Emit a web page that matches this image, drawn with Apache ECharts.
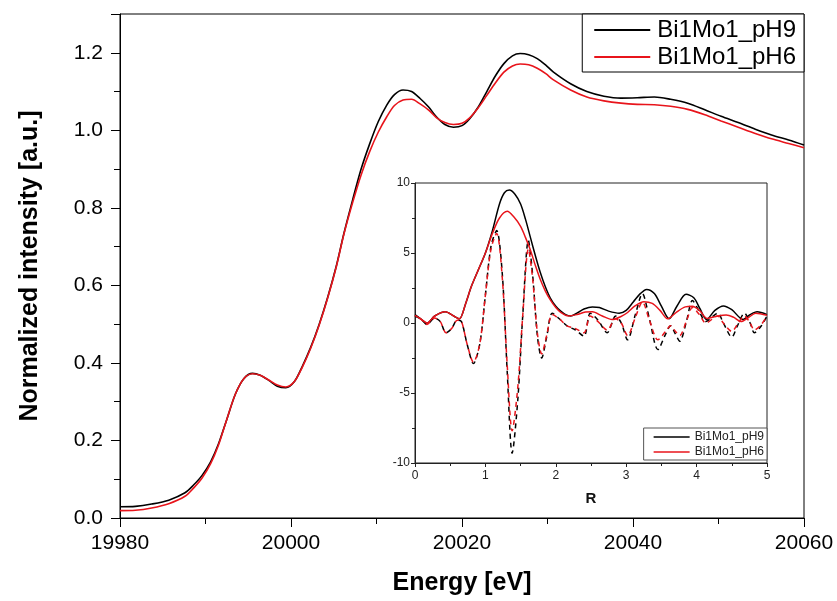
<!DOCTYPE html>
<html>
<head>
<meta charset="utf-8">
<script src="https://cdn.jsdelivr.net/npm/echarts@6/dist/echarts.min.js"></script>
<style>
  html, body { margin: 0; padding: 0; background: #fff; }
  #chart { width: 837px; height: 601px; }
</style>
</head>
<body>
<div id="chart"></div>
<script>
// 主图：XANES 能量 (eV)
const energy = [19980, 19981.8, 19983.7, 19985.7, 19987.6, 19988.6, 19989.6, 19990.6, 19991.5, 19992.5, 19993.5, 19994.5, 19995.5, 19996.4, 19997.4, 19998.4, 19999.4, 20000.4,
    20001.3, 20002.3, 20003.3, 20004.3, 20005.3, 20006.2, 20007.2, 20008.2, 20009.2, 20010.2, 20011.2, 20012.1, 20013.1, 20014.1, 20015.1, 20016.1, 20017.0, 20018.0, 20019.0, 20020.0,
    20020.9, 20021.9, 20022.9, 20023.9, 20024.9, 20025.9, 20026.8, 20027.8, 20028.8, 20029.8, 20030.7, 20032.7, 20034.6, 20036.6, 20038.6,
    20040.5, 20042.5, 20044.4, 20046.4, 20048.4, 20050.3, 20052.3, 20054.3, 20056.2, 20058.2, 20060];

const xanesPH9 = [0.029, 0.030, 0.036, 0.046, 0.065, 0.085, 0.110, 0.145, 0.190, 0.255, 0.320, 0.360, 0.373, 0.368, 0.355, 0.340, 0.336, 0.352,
    0.390, 0.440, 0.500, 0.570, 0.650, 0.735, 0.820, 0.900, 0.965, 1.022, 1.065, 1.092, 1.104, 1.100, 1.082, 1.060, 1.035, 1.015, 1.008, 1.012,
    1.030, 1.060, 1.100, 1.140, 1.172, 1.192, 1.198, 1.195, 1.185, 1.168, 1.150, 1.120, 1.100, 1.088, 1.083,
    1.084, 1.086, 1.080, 1.070, 1.053, 1.036, 1.020, 1.003, 0.988, 0.975, 0.962];

const xanesPH6 = [0.019, 0.020, 0.026, 0.037, 0.056, 0.077, 0.103, 0.140, 0.187, 0.255, 0.320, 0.360, 0.372, 0.368, 0.356, 0.343, 0.338, 0.352,
    0.388, 0.438, 0.498, 0.568, 0.648, 0.733, 0.813, 0.885, 0.945, 0.995, 1.035, 1.064, 1.078, 1.080, 1.068, 1.052, 1.033, 1.020, 1.015, 1.018,
    1.032, 1.058, 1.090, 1.122, 1.150, 1.166, 1.171, 1.169, 1.160, 1.146, 1.130, 1.104, 1.086, 1.076, 1.070,
    1.067, 1.066, 1.062, 1.054, 1.040, 1.024, 1.008, 0.992, 0.978, 0.966, 0.955];

// 插图：傅里叶变换 [R, 值]
const ftMagPH9 = [[0, 0.6], [0.08, 0.3], [0.17, 0.0], [0.28, 0.5], [0.43, 0.8], [0.55, 0.5], [0.63, 0.3], [0.72, 1.4], [0.8, 2.6], [0.9, 3.8],
    [1.0, 5.0], [1.1, 6.6], [1.2, 8.5], [1.27, 9.3], [1.34, 9.5], [1.42, 9.2], [1.5, 8.5], [1.57, 7.4], [1.64, 6.1], [1.71, 4.8], [1.78, 3.6],
    [1.85, 2.6], [1.92, 1.8], [2.0, 1.2], [2.07, 0.85], [2.14, 0.6], [2.21, 0.5], [2.3, 0.7], [2.4, 1.0], [2.52, 1.15], [2.62, 1.1], [2.75, 0.85],
    [2.9, 0.7], [3.0, 0.9], [3.1, 1.5], [3.2, 2.1], [3.29, 2.4], [3.4, 2.1], [3.5, 1.2], [3.61, 0.3], [3.72, 1.2], [3.85, 2.05], [3.96, 1.8],
    [4.05, 1.0], [4.14, 0.25], [4.26, 0.9], [4.38, 1.22], [4.5, 0.95], [4.66, 0.25], [4.76, 0.6], [4.86, 0.8], [5.0, 0.6]];

const ftMagPH6 = [[0, 0.55], [0.08, 0.3], [0.17, 0.0], [0.28, 0.5], [0.43, 0.8], [0.55, 0.5], [0.63, 0.3], [0.72, 1.4], [0.8, 2.6], [0.9, 3.8],
    [1.0, 5.0], [1.1, 6.4], [1.2, 7.5], [1.31, 7.98], [1.4, 7.6], [1.5, 6.9], [1.57, 6.1], [1.64, 5.2], [1.71, 4.1], [1.78, 3.1],
    [1.85, 2.3], [1.92, 1.67], [2.0, 1.1], [2.07, 0.76], [2.18, 0.5], [2.3, 0.6], [2.42, 0.78], [2.52, 0.8], [2.66, 0.5], [2.8, 0.25],
    [2.92, 0.45], [3.02, 0.75], [3.12, 1.2], [3.25, 1.52], [3.37, 1.4], [3.48, 0.9], [3.59, 0.3], [3.72, 0.8], [3.84, 1.15], [3.94, 1.19],
    [4.05, 0.85], [4.15, 0.33], [4.3, 0.5], [4.42, 0.58], [4.53, 0.4], [4.63, 0.1], [4.74, 0.4], [4.84, 0.7], [5.0, 0.55]];

const ftImPH9 = [[0, 0.5], [0.08, 0.3], [0.17, -0.1], [0.28, 0.35], [0.36, 0.1], [0.44, -0.7], [0.52, -0.4], [0.6, 0.2], [0.66, 0.1],
    [0.74, -1.5], [0.83, -2.9], [0.92, -1.5], [1.0, 2.0], [1.08, 5.5], [1.16, 6.6], [1.24, 3.5], [1.31, -3.5], [1.38, -9.3], [1.46, -5.5],
    [1.53, 0.5], [1.61, 5.9], [1.67, 3.5], [1.74, -1.0], [1.8, -2.5], [1.87, -1.0], [1.95, 0.7], [2.05, 0.3], [2.16, -0.2], [2.28, -0.5],
    [2.4, -0.95], [2.49, 0.7], [2.6, 0.2], [2.73, -0.7], [2.85, 0.5], [2.93, 0.0], [3.02, -1.2], [3.13, 0.6], [3.23, 2.1], [3.33, 0.3],
    [3.45, -1.9], [3.56, -0.8], [3.63, -0.2], [3.7, -0.8], [3.76, -1.3], [3.86, 0.2], [3.94, 1.6], [4.04, 0.8], [4.13, 0.1], [4.3, 0.7],
    [4.38, 0.0], [4.5, -1.0], [4.58, -0.2], [4.68, 0.7], [4.76, 0.0], [4.82, -0.7], [4.92, -0.2], [5.0, 0.5]];

const ftImPH6 = [[0, 0.5], [0.08, 0.3], [0.17, -0.1], [0.28, 0.35], [0.36, 0.1], [0.44, -0.7], [0.52, -0.4], [0.6, 0.2], [0.66, 0.1],
    [0.74, -1.5], [0.83, -2.8], [0.92, -1.5], [1.0, 2.0], [1.08, 5.3], [1.16, 6.4], [1.24, 3.2], [1.31, -3.0], [1.38, -7.7], [1.46, -4.6],
    [1.53, 0.5], [1.61, 5.3], [1.67, 3.2], [1.74, -0.8], [1.8, -2.2], [1.87, -0.9], [1.95, 0.6], [2.05, 0.3], [2.16, -0.2], [2.28, -0.4],
    [2.4, -0.7], [2.49, 0.5], [2.6, 0.1], [2.73, -0.5], [2.85, 0.3], [2.93, 0.0], [3.02, -0.9], [3.13, 0.4], [3.23, 1.5], [3.33, 0.2],
    [3.45, -1.2], [3.56, -0.6], [3.63, -0.2], [3.7, -0.6], [3.76, -0.9], [3.86, 0.2], [3.94, 1.1], [4.04, 0.6], [4.13, 0.0], [4.3, 0.5],
    [4.38, 0.0], [4.5, -0.6], [4.58, -0.1], [4.68, 0.5], [4.76, 0.0], [4.82, -0.5], [4.92, -0.1], [5.0, 0.5]];

const seriesNames = ['Bi1Mo1_pH9', 'Bi1Mo1_pH6'];

window.addEventListener('DOMContentLoaded', function() {
    initChart();
});

function initChart() {
    const chartDom = document.getElementById('chart');
    const myChart = echarts.init(chartDom, null, { renderer: 'canvas' });
    const font = 'Liberation Sans, Arial, sans-serif';

    const mainPH9 = energy.map((e, i) => [e, xanesPH9[i]]);
    const mainPH6 = energy.map((e, i) => [e, xanesPH6[i]]);

    const option = {
        backgroundColor: '#fff',
        animation: false,
        legend: [
            {
                data: seriesNames,
                orient: 'vertical',
                right: 33,
                top: 14,
                icon: 'rect',
                itemWidth: 56,
                itemHeight: 2,
                itemGap: 3,
                padding: [4, 8, 3, 12],
                borderColor: '#000',
                borderWidth: 1,
                backgroundColor: '#fff',
                textStyle: { fontFamily: font, fontSize: 24, color: '#000', padding: [0, 0, 0, 2] }
            },
            {
                data: seriesNames,
                orient: 'vertical',
                right: 70,
                top: 428,
                icon: 'rect',
                itemWidth: 36,
                itemHeight: 1.5,
                itemGap: 3,
                padding: [3, 3, 2, 10],
                borderColor: '#555',
                borderWidth: 1,
                backgroundColor: '#fff',
                textStyle: { fontFamily: font, fontSize: 12, color: '#222' }
            }
        ],
        grid: [
            { left: 120, top: 14, right: 33, bottom: 83, show: true, borderColor: '#000', borderWidth: 1 },
            { left: 415, top: 183, right: 70, bottom: 138, show: true, borderColor: '#222', borderWidth: 1, backgroundColor: '#fff', z: 3 }
        ],
        xAxis: [
            {
                gridIndex: 0,
                type: 'value',
                min: 19980,
                max: 20060,
                interval: 20,
                name: 'Energy [eV]',
                nameLocation: 'middle',
                nameGap: 53,
                nameTextStyle: { fontFamily: font, fontSize: 25, fontWeight: 'bold', color: '#000' },
                axisLine: { lineStyle: { color: '#000', width: 1 } },
                axisTick: { show: true, length: 9, lineStyle: { color: '#000' } },
                minorTick: { show: true, splitNumber: 2, length: 6, lineStyle: { color: '#000' } },
                splitLine: { show: false },
                axisLabel: { fontFamily: font, fontSize: 21, color: '#000', margin: 15, formatter: v => String(v) }
            },
            {
                gridIndex: 1,
                type: 'value',
                min: 0,
                max: 5,
                interval: 1,
                name: 'R',
                nameLocation: 'middle',
                nameGap: 28,
                nameTextStyle: { fontFamily: font, fontSize: 15, fontWeight: 'bold', color: '#111' },
                axisLine: { onZero: false, lineStyle: { color: '#222', width: 1 } },
                axisTick: { show: true, length: 4, lineStyle: { color: '#222' } },
                minorTick: { show: true, splitNumber: 2, length: 3, lineStyle: { color: '#222' } },
                splitLine: { show: false },
                axisLabel: { fontFamily: font, fontSize: 12, color: '#222', margin: 7 },
                z: 3
            }
        ],
        yAxis: [
            {
                gridIndex: 0,
                type: 'value',
                min: 0,
                max: 1.3,
                interval: 0.2,
                name: 'Normalized intensity [a.u.]',
                nameLocation: 'middle',
                nameGap: 77,
                nameTextStyle: { fontFamily: font, fontSize: 25, fontWeight: 'bold', color: '#000' },
                axisLine: { show: true, lineStyle: { color: '#000', width: 1 } },
                axisTick: { show: true, length: 9, lineStyle: { color: '#000' } },
                minorTick: { show: true, splitNumber: 2, length: 6, lineStyle: { color: '#000' } },
                splitLine: { show: false },
                axisLabel: {
                    fontFamily: font, fontSize: 21, color: '#000', margin: 17,
                    showMaxLabel: false,
                    formatter: v => v.toFixed(1)
                }
            },
            {
                gridIndex: 1,
                type: 'value',
                min: -10,
                max: 10,
                interval: 5,
                axisLine: { show: true, onZero: false, lineStyle: { color: '#222', width: 1 } },
                axisTick: { show: true, length: 4, lineStyle: { color: '#222' } },
                minorTick: { show: true, splitNumber: 2, length: 3, lineStyle: { color: '#222' } },
                splitLine: { show: false },
                axisLabel: { fontFamily: font, fontSize: 12, color: '#222', margin: 5 },
                z: 3
            }
        ],
        series: [
            {
                name: 'Bi1Mo1_pH9',
                type: 'line',
                xAxisIndex: 0,
                yAxisIndex: 0,
                data: mainPH9,
                smooth: 0.3,
                symbol: 'none',
                lineStyle: { color: '#000', width: 1.6 },
                itemStyle: { color: '#000' }
            },
            {
                name: 'Bi1Mo1_pH6',
                type: 'line',
                xAxisIndex: 0,
                yAxisIndex: 0,
                data: mainPH6,
                smooth: 0.3,
                symbol: 'none',
                lineStyle: { color: '#e8141b', width: 1.6 },
                itemStyle: { color: '#e8141b' }
            },
            {
                name: 'Bi1Mo1_pH9',
                type: 'line',
                xAxisIndex: 1,
                yAxisIndex: 1,
                data: ftMagPH9,
                smooth: 0.3,
                symbol: 'none',
                z: 4,
                lineStyle: { color: '#000', width: 1.5 },
                itemStyle: { color: '#000' }
            },
            {
                name: 'Bi1Mo1_pH6',
                type: 'line',
                xAxisIndex: 1,
                yAxisIndex: 1,
                data: ftMagPH6,
                smooth: 0.3,
                symbol: 'none',
                z: 5,
                lineStyle: { color: '#e8141b', width: 1.5 },
                itemStyle: { color: '#e8141b' }
            },
            {
                name: 'pH9 Im',
                type: 'line',
                xAxisIndex: 1,
                yAxisIndex: 1,
                data: ftImPH9,
                smooth: 0.3,
                symbol: 'none',
                z: 4,
                lineStyle: { color: '#000', width: 1.5, type: [5, 4] }
            },
            {
                name: 'pH6 Im',
                type: 'line',
                xAxisIndex: 1,
                yAxisIndex: 1,
                data: ftImPH6,
                smooth: 0.3,
                symbol: 'none',
                z: 5,
                lineStyle: { color: '#e8141b', width: 1.5, type: [5, 4], dashOffset: 4.5 }
            }
        ]
    };

    myChart.setOption(option);
    window.addEventListener('resize', () => myChart.resize());
}
</script>
</body>
</html>
